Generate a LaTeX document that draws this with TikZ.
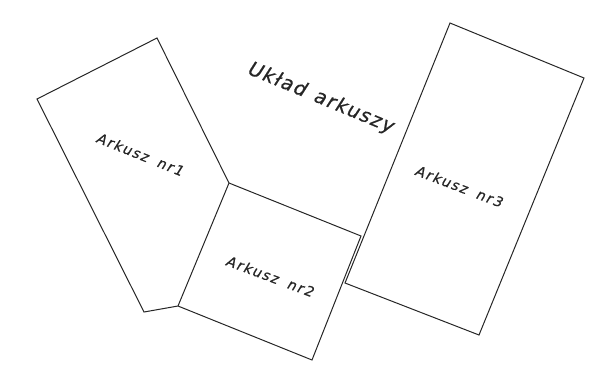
\documentclass[tikz,border=0pt]{standalone}
\usepackage{fontspec}
\newfontfamily\techfont{DejaVu Sans}[FakeSlant=0.18,LetterSpace=12,FakeBold=0.6,WordSpace=1.7]
\newfontfamily\titlefont{DejaVu Sans}[FakeSlant=0.18,LetterSpace=8,FakeBold=0.6,WordSpace=1.3]
\begin{document}
\begin{tikzpicture}[x=1pt,y=-1pt,
  sheet/.style={draw=black!85,line width=1pt,line join=miter},
  sheetlabel/.style={font=\techfont\fontsize{14}{14}\selectfont,text=black!85,anchor=base,inner sep=0pt},
  titlelabel/.style={font=\titlefont\fontsize{19.5}{19.5}\selectfont,text=black!85,anchor=base,inner sep=0pt}]
\useasboundingbox (0,0) rectangle (595,376);
% sheet 1
\coordinate (a1) at (157,38);
\coordinate (a2) at (37,99);
\coordinate (a3) at (144,312);
\coordinate (a4) at (178,306);
\coordinate (a5) at (229,183);
% sheet 2
\coordinate (b2) at (361,236);
\coordinate (b3) at (312,360);
% sheet 3
\coordinate (c1) at (450,23);
\coordinate (c2) at (584,78);
\coordinate (c3) at (479,335);
\coordinate (c4) at (345,283);
\draw[sheet] (a1) -- (a2) -- (a3) -- (a4) -- (a5) -- cycle;
\draw[sheet] (a5) -- (b2) -- (b3) -- (a4);
\draw[sheet] (c1) -- (c2) -- (c3) -- (c4) -- cycle;
\node[titlelabel,rotate=-22.5] (title) at (318,103) {Układ arkuszy};
\node[sheetlabel,rotate=-22] (l1) at (138,159) {Arkusz nr1};
\node[sheetlabel,rotate=-20.5] (l2) at (268,281) {Arkusz nr2};
\node[sheetlabel,rotate=-21] (l3) at (457,191) {Arkusz nr3};
\end{tikzpicture}
\end{document}
